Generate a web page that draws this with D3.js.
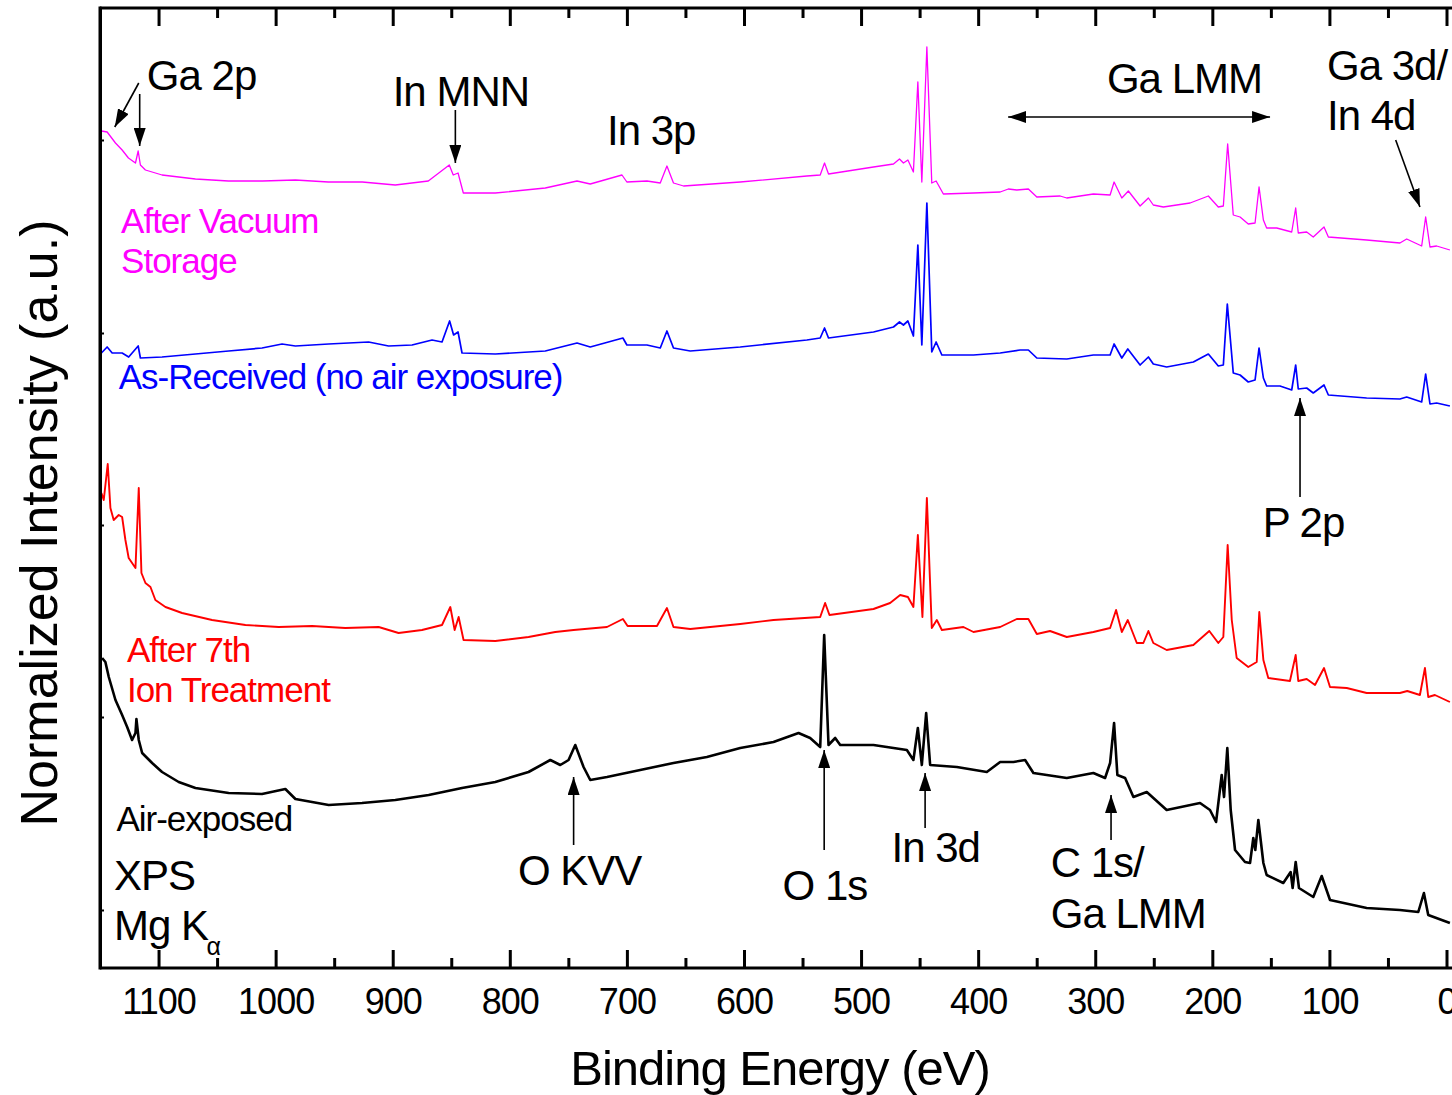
<!DOCTYPE html>
<html>
<head>
<meta charset="utf-8">
<script src="https://cdn.jsdelivr.net/npm/d3@7"></script>
<style>
    body { margin: 0; background: #fff; }
    text { font-family: "Liberation Sans", Arial, sans-serif; letter-spacing: -1px; }
    .axis path, .axis line { stroke: #000; stroke-width: 3; }
    .axis text { font-size: 36px; fill: #000; }
</style>
</head>
<body>
<div id="viz"></div>
<script>
// spectra: [binding energy (eV), normalized intensity (a.u.)]
var vacuumData = [
    [1148.8,837],[1143.9,836],[1136.8,825],[1131.1,818],[1125.7,810],[1119.7,805],[1117.4,817],
    [1115.5,803],[1111.2,798],[1097,793],[1068.5,789],[1040.3,787],[1011.3,787],[983.1,788],
    [955,786],[926,786],[897.8,783],[869.6,787],[851.7,803],[848.3,793],[844.2,795],[839.7,775],
    [812.4,775],[769.7,780],[742.6,787],[731.3,784],[704.2,793],[700,786],[682.9,787],[671.5,785],
    [665.8,802],[660.2,785],[651.6,782],[603.2,786],[546.3,792],[534.9,793],[531.2,805],[527.8,794],
    [489.4,801],[472.3,804],[467.2,809],[463.8,805],[460,808],[455.3,796],[451.5,886],[448.1,786],
    [443.8,921],[439.6,785],[435.9,787],[429.7,774],[404,775],[381.2,776],[374.2,779],[367,778],
    [357.1,779],[349.9,771],[330,772],[324.3,770],[301.6,774],[287.3,773],[283.9,786],[277.3,770],
    [271.7,777],[261.7,762],[254.6,770],[250.4,763],[241.8,761],[219,765],[203.4,772],[194.9,761],
    [190.6,762],[186.9,824],[182.1,753],[176.3,751],[169.3,744],[163.5,745],[160.1,781],[156.4,748],
    [153.6,740],[145,740],[132.2,736],[128.8,760],[126.6,735],[119.4,736],[113.8,731],[104.6,741],
    [100.9,731],[68.2,728],[39.8,725],[34,729],[21.2,722],[17.8,751],[14.1,721],[8.4,722],[-2.9,718]
];
var receivedData = [
    [1148.8,615],[1143.9,621],[1139.6,615],[1131.1,615],[1125.5,611],[1117.4,622],[1115.5,610],
    [1097,611],[1068.5,614],[1040.1,617],[1011.6,620],[994.5,624],[983.1,622],[954.7,624],
    [920.6,626],[903.5,622],[883.5,623],[866.4,628],[857.9,626],[851.4,647],[848,633],[844.2,636],
    [840.8,615],[812.4,614],[769.7,617],[742.6,625],[731.3,621],[703.4,630],[700,623],[682.9,623],
    [671.5,620],[665.8,637],[660.2,620],[645.9,617],[603.2,621],[546.3,628],[534.9,630],[531.2,640],
    [527.8,630],[489.4,636],[472.3,641],[467.2,646],[463.8,643],[460,647],[455.3,632],[451.5,723],
    [448.1,623],[443.8,765],[439.6,616],[435.9,626],[431,613],[404,613],[381.2,615],[364.2,618],
    [357.1,618],[349.9,610],[324.3,609],[301.6,613],[287.3,613],[283.9,624],[277.3,610],[272.2,619],
    [261.7,603],[254.6,611],[250.4,604],[239,601],[216.2,606],[203.4,614],[194.9,602],[190.6,603],
    [187.2,664],[182.1,595],[176.3,593],[169.3,586],[163.5,588],[160.1,620],[156.4,590],[153.6,582],
    [142.2,582],[132.2,578],[128.8,603],[126.6,579],[119.4,580],[113.8,575],[104.6,583],[100.9,573],
    [68.2,570],[39.8,569],[34,571],[21.2,566],[17.8,594],[14.1,564],[8.4,565],[-2.9,562]
];
var ionData = [
    [1148.8,475],[1146.8,468],[1143.4,504],[1141.1,460],[1138.3,448],[1134,453],[1131.1,451],
    [1128.3,428],[1125.5,410],[1119.7,400],[1116.9,480],[1114.6,395],[1111.2,385],[1106.9,381],
    [1102.7,368],[1094.1,361],[1079.9,355],[1054.3,348],[1025.8,343],[997.4,341],[968.9,342],
    [940.5,340],[912,341],[895,335],[875,338],[857.9,343],[850.8,361],[847.1,338],[843.7,351],
    [839.5,328],[812.4,327],[784,331],[761.2,336],[745.5,338],[717,341],[703.4,349],[699.4,342],
    [674.3,342],[665.8,360],[660.2,341],[645.9,339],[603.2,344],[574.8,348],[534.9,351],[530.7,365],
    [527,353],[489.4,359],[475.2,365],[466.6,373],[460,371],[455.3,361],[451.5,433],[447.6,351],
    [443.8,470],[439.6,340],[435.3,348],[431,338],[412.6,341],[404,336],[381.2,341],[367,349],
    [357.1,349],[349.9,334],[338.6,337],[324.3,331],[301.6,336],[287.3,340],[282.2,358],[277.3,336],
    [272.2,348],[264.5,325],[258.9,325],[254.6,337],[250.4,325],[239,318],[216.2,323],[202.6,337],
    [194.9,325],[190.6,331],[186.9,423],[183.4,348],[179.2,310],[169.3,301],[162.1,306],[159.9,356],
    [156.4,308],[152.2,290],[133.7,287],[128.8,313],[126.6,287],[119.4,289],[112.3,283],[104.6,300],
    [99.5,281],[85.2,280],[68.2,275],[39.8,275],[33.5,277],[22.7,273],[18.4,300],[15.6,271],
    [9.9,273],[-2.9,266]
];
var airData = [
    [1148.2,310],[1145.4,306],[1142.5,291],[1136.8,268],[1131.1,253],[1126.8,241],[1122.6,228],
    [1119.7,235],[1118.9,249],[1116.9,228],[1114,215],[1105.5,205],[1097,196],[1082.8,186],
    [1068.5,180],[1040.1,175],[1011.6,174],[991.7,179],[983.1,169],[954.7,163],[926.2,165],
    [897.8,168],[869.3,173],[840.8,180],[812.4,186],[784,196],[765.4,208],[756.9,203],[749.8,208],
    [744.1,223],[737,201],[731.3,188],[717,191],[688.6,198],[660.2,205],[631.7,211],[603.2,220],
    [574.8,226],[553.4,235],[543.5,230],[534.9,221],[531.5,333],[527.8,223],[522.1,230],[517.8,223],
    [489.4,223],[460.9,218],[455.3,208],[451.5,240],[448.1,203],[444.4,255],[441,203],[418.2,201],
    [392.6,196],[381.2,206],[369.9,206],[359.9,208],[352.8,195],[324.3,190],[301.6,195],[291.6,190],
    [287.3,205],[283.9,245],[281.1,193],[274.5,190],[267.4,171],[256,176],[239,158],[210.5,165],
    [202,158],[196.8,146],[192,193],[190,171],[187.2,220],[184.3,158],[180.6,118],[172.1,106],
    [167.8,105],[165,130],[163.3,118],[160.7,148],[156.4,105],[153.6,93],[139.4,85],[133.1,96],
    [131.4,80],[128.8,106],[126,80],[113.8,71],[106.6,92],[99.5,68],[68.2,60],[39.8,58],[24.1,56],
    [19.3,75],[15.6,53],[-2.9,45]
];

var seriesColors = ["#ff00ff", "#0000ff", "#ff0000", "#000000"];
var seriesWidths = [1.3, 1.7, 1.9, 2.6];

var xMajorTicks = [1100, 1000, 900, 800, 700, 600, 500, 400, 300, 200, 100, 0];
var xMinorTicks = [1050, 950, 850, 750, 650, 550, 450, 350, 250, 150, 50];
var yTicks = [58, 251, 443, 635, 828];

var width = 1452, height = 1095;
var plot = {left: 100, top: 8, bottom: 968};

var svg = d3.select("#viz").append("svg")
    .attr("width", width)
    .attr("height", height)
    .style("display", "block");

var xScale = d3.scaleLinear().domain([1150, 0]).range([plot.left, 1446.5]);
var yScale = d3.scaleLinear().domain([0, 960]).range([plot.bottom, plot.top]);
var plotRight = xScale(-10);

// arrow head marker
svg.append("defs").append("marker")
    .attr("id", "head")
    .attr("markerUnits", "userSpaceOnUse")
    .attr("viewBox", "0 0 18 12")
    .attr("refX", 18).attr("refY", 6)
    .attr("markerWidth", 18).attr("markerHeight", 12)
    .attr("orient", "auto-start-reverse")
    .append("path")
    .attr("d", "M0,0L18,6L0,12Z")
    .attr("fill", "#000");

//***************** spectra ***************************
var line = d3.line()
    .x(function(d) { return xScale(d[0]); })
    .y(function(d) { return yScale(d[1]); });

[vacuumData, receivedData, ionData, airData].forEach(function(s, i) {
    svg.append("path")
        .datum(s)
        .attr("d", line)
        .attr("fill", "none")
        .attr("stroke", seriesColors[i])
        .attr("stroke-width", seriesWidths[i])
        .attr("stroke-linejoin", "round");
});

//***************** axes ***************************
var xAxis = d3.axisBottom(xScale).tickValues(xMajorTicks).tickSize(-18).tickSizeOuter(0)
    .tickPadding(20).tickFormat(d3.format("d"));
var xMinor = d3.axisBottom(xScale).tickValues(xMinorTicks).tickSize(-10).tickFormat("");
var topMajor = d3.axisTop(xScale).tickValues(xMajorTicks).tickSize(-18).tickSizeOuter(0).tickFormat("");
var topMinor = d3.axisTop(xScale).tickValues(xMinorTicks).tickSize(-10).tickFormat("");

svg.append("g").attr("class", "axis").attr("transform", "translate(0," + plot.bottom + ")").call(xAxis);
svg.append("g").attr("class", "axis").attr("transform", "translate(0," + plot.bottom + ")").call(xMinor)
    .select(".domain").remove();
svg.append("g").attr("class", "axis").attr("transform", "translate(0," + plot.top + ")").call(topMajor);
svg.append("g").attr("class", "axis").attr("transform", "translate(0," + plot.top + ")").call(topMinor)
    .select(".domain").remove();

// extend horizontal frame lines past the 0 tick
svg.selectAll(".axis .domain").attr("d", function() {
    return "M" + plot.left + ",0H" + plotRight;
});

var yAxis = d3.axisLeft(yScale).tickValues(yTicks).tickSize(-4).tickSizeOuter(0).tickFormat("");
svg.append("g").attr("class", "axis").attr("transform", "translate(" + plot.left + ",0)").call(yAxis)
    .selectAll("line").style("stroke-width", 2);
svg.append("line")
    .attr("x1", plot.left).attr("x2", plot.left)
    .attr("y1", plot.top - 1.5).attr("y2", plot.bottom + 1.5)
    .attr("stroke", "#000").attr("stroke-width", 3);

// axis titles
svg.append("text")
    .attr("x", 780).attr("y", 1085)
    .attr("text-anchor", "middle")
    .style("font-size", "49px")
    .text("Binding Energy (eV)");
svg.append("text")
    .attr("transform", "translate(57,523) rotate(-90)")
    .attr("text-anchor", "middle")
    .style("font-size", "52px")
    .style("letter-spacing", "0px")
    .text("Normalized Intensity (a.u.)");

//***************** labels ***************************
var seriesLabels = [
    {lines: ["After Vacuum", "Storage"], e: 1132, v: 735, c: 0},
    {lines: ["As-Received (no air exposure)"], e: 1134, v: 579, c: 1},
    {lines: ["After 7th", "Ion Treatment"], e: 1127, v: 306, c: 2},
    {lines: ["Air-exposed"], e: 1136, v: 137, c: 3}
];
seriesLabels.forEach(function(d) {
    d.lines.forEach(function(t, j) {
        svg.append("text")
            .attr("x", xScale(d.e)).attr("y", yScale(d.v) + j * 40)
            .attr("fill", seriesColors[d.c])
            .style("font-size", "35px")
            .text(t);
    });
});

// peak annotations, placed in energy / intensity units
var peakLabels = [
    {t: "Ga 2p", e: 1110, v: 878},
    {t: "In MNN", e: 900, v: 862},
    {t: "In 3p", e: 717, v: 823},
    {t: "Ga LMM", e: 290, v: 875},
    {t: "Ga 3d/", e: 102, v: 888},
    {t: "In 4d", e: 102, v: 838},
    {t: "P 2p", e: 157, v: 431},
    {t: "O KVV", e: 793, v: 83},
    {t: "O 1s", e: 567, v: 68},
    {t: "In 3d", e: 474, v: 106},
    {t: "C 1s/", e: 338, v: 91},
    {t: "Ga LMM", e: 338, v: 40},
    {t: "XPS", e: 1138, v: 78},
    {t: "Mg K", e: 1138, v: 28}
];
peakLabels.forEach(function(d) {
    svg.append("text")
        .attr("x", xScale(d.e)).attr("y", yScale(d.v))
        .style("font-size", "42px")
        .text(d.t);
});
svg.append("text")
    .attr("x", xScale(1059)).attr("y", yScale(13))
    .style("font-size", "25px")
    .style("letter-spacing", "0px")
    .text("\u03b1");

var arrows = [
    {e1: 1116.9, v1: 885, e2: 1137.4, v2: 841},
    {e1: 1116.1, v1: 874, e2: 1116.1, v2: 822},
    {e1: 846.5, v1: 858, e2: 846.5, v2: 805},
    {e1: 43.4, v1: 828, e2: 22.7, v2: 761},
    {e1: 125.1, v1: 471, e2: 125.1, v2: 570},
    {e1: 745.5, v1: 123, e2: 745.5, v2: 191},
    {e1: 531.5, v1: 118, e2: 531.5, v2: 218},
    {e1: 445.3, v1: 140, e2: 445.3, v2: 195},
    {e1: 286.5, v1: 128, e2: 286.5, v2: 173}
];
arrows.forEach(function(d) {
    svg.append("line")
        .attr("x1", xScale(d.e1)).attr("y1", yScale(d.v1))
        .attr("x2", xScale(d.e2)).attr("y2", yScale(d.v2))
        .attr("stroke", "#000").attr("stroke-width", 1.6)
        .attr("marker-end", "url(#head)");
});
// Ga LMM range, double headed
svg.append("line")
    .attr("x1", xScale(374.4)).attr("y1", yScale(851))
    .attr("x2", xScale(150.7)).attr("y2", yScale(851))
    .attr("stroke", "#000").attr("stroke-width", 1.6)
    .attr("marker-start", "url(#head)")
    .attr("marker-end", "url(#head)");
</script>
</body>
</html>
